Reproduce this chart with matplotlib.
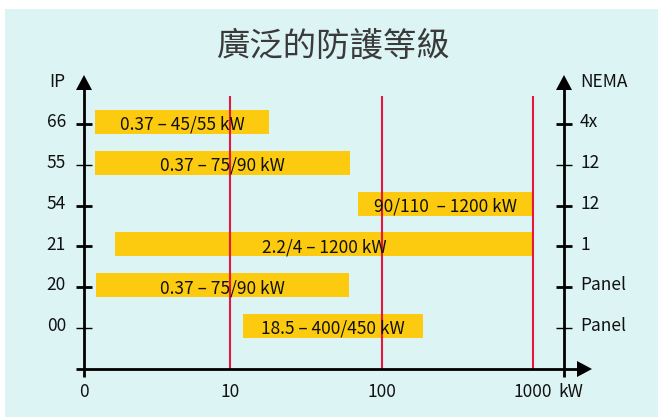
import numpy as np
import matplotlib
matplotlib.use('Agg')
import matplotlib.pyplot as plt
from matplotlib.patches import Rectangle, Polygon

plt.rcParams['font.family'] = ['Noto Sans CJK TC', 'DejaVu Sans']

# data
title = '廣泛的防護等級'
ip_codes = ['66', '55', '54', '21', '20', '00']
nema_codes = ['4x', '12', '12', '1', 'Panel', 'Panel']
bar_labels = ['0.37 – 45/55 kW', '0.37 – 75/90 kW', '90/110  – 1200 kW',
              '2.2/4 – 1200 kW', '0.37 – 75/90 kW', '18.5 – 400/450 kW']
bar_start = [1.29, 1.29, 70, 1.74, 1.30, 12.2]   # kW (schematic)
bar_end = [18.1, 62, 1000, 1000, 61, 188]
major_tick = [True, False, True, True, True, False]
red_lines = [10, 100, 1000]
xtick_vals = [1.087, 10, 100, 1000]
xtick_text = ['0', '10', '100', '1000']

W, H = 658, 417
BG = '#ddf4f4'
GOLD = '#fccb0f'
RED = '#e5173f'
TXT = '#111111'
FS = 12.5

# pixel -> data helpers (layout only)
X10, DEC = 230.0, 151.5
Y0, STEP = 124.0, 40.8
def px_x(p):
    return 10 ** (1 + (p - X10) / DEC)
def px_y(p):
    return (p - Y0) / STEP

fig = plt.figure(figsize=(W / 100, H / 100), dpi=100)
fig.patches.append(Rectangle((5 / W, 0), 1, (H - 9) / H, transform=fig.transFigure,
                             facecolor=BG, edgecolor='none', zorder=-10))

ax = fig.add_axes([0, 0, 1, 1])
ax.set_xscale('log')
ax.set_xlim(px_x(0), px_x(W))
ax.set_ylim(px_y(H), px_y(0))
ax.axis('off')
ax.patch.set_alpha(0)

ypos = np.arange(len(ip_codes))

# red reference lines
ax.vlines(red_lines, px_y(96), px_y(369), color=RED, lw=1.5, zorder=2)

# bars (drawn slightly above the tick, as in the original)
widths = np.array(bar_end) - np.array(bar_start)
ax.barh(ypos - 0.05, widths, left=bar_start, height=0.59, color=GOLD, zorder=1)
for y, s, e, lab in zip(ypos, bar_start, bar_end, bar_labels):
    ax.text(np.sqrt(s * e), y + 6 / STEP, lab, ha='center', va='baseline',
            fontsize=FS, color=TXT, zorder=3)

# overlay in pixel coords for axes arrows
deco = fig.add_axes([0, 0, 1, 1])
deco.set_xlim(0, W)
deco.set_ylim(H, 0)
deco.axis('off')
deco.patch.set_alpha(0)

lw = 2.0
deco.plot([84, 84], [377, 88], color='k', lw=lw, solid_capstyle='butt')
deco.plot([564, 564], [377, 88], color='k', lw=lw, solid_capstyle='butt')
deco.plot([76, 579], [369, 369], color='k', lw=lw, solid_capstyle='butt')
for xa in (84, 564):
    deco.add_patch(Polygon([[xa - 8, 90], [xa + 8, 90], [xa, 75]], closed=True,
                           facecolor='k', edgecolor='none'))
deco.add_patch(Polygon([[577, 361], [577, 377], [592, 369]], closed=True,
                       facecolor='k', edgecolor='none'))

# y ticks and labels (IP left, NEMA right)
for y, ip, nm, mj in zip(ypos, ip_codes, nema_codes, major_tick):
    ax.plot([px_x(76), px_x(92)], [y, y], color='k', lw=2.0 if mj else 1.0,
            solid_capstyle='butt', zorder=4)
    ax.plot([px_x(556), px_x(572)], [y, y], color='k', lw=2.0 if mj else 1.0,
            solid_capstyle='butt', zorder=4)
    ax.text(px_x(66), y + 3.3 / STEP, ip, ha='right', va='baseline', fontsize=FS, color=TXT)
    ax.text(px_x(580), y + 3.3 / STEP, nm, ha='left', va='baseline', fontsize=FS, color=TXT)

ax.text(px_x(65), px_y(86.7), 'IP', ha='right', va='baseline', fontsize=FS, color=TXT)
ax.text(px_x(580), px_y(86.7), 'NEMA', ha='left', va='baseline', fontsize=FS, color=TXT)

# x tick labels
for xv, xt in zip(xtick_vals, xtick_text):
    ax.text(xv, px_y(397), xt, ha='center', va='baseline', fontsize=FS, color=TXT)
ax.text(px_x(571), px_y(397), 'kW', ha='center', va='baseline', fontsize=FS, color=TXT)

fig.text(334 / W, 1 - 46 / H, title, ha='center', va='center', fontsize=24,
         fontweight='light', color='#3a3a3a')

fig.savefig('out.png', dpi=100)
